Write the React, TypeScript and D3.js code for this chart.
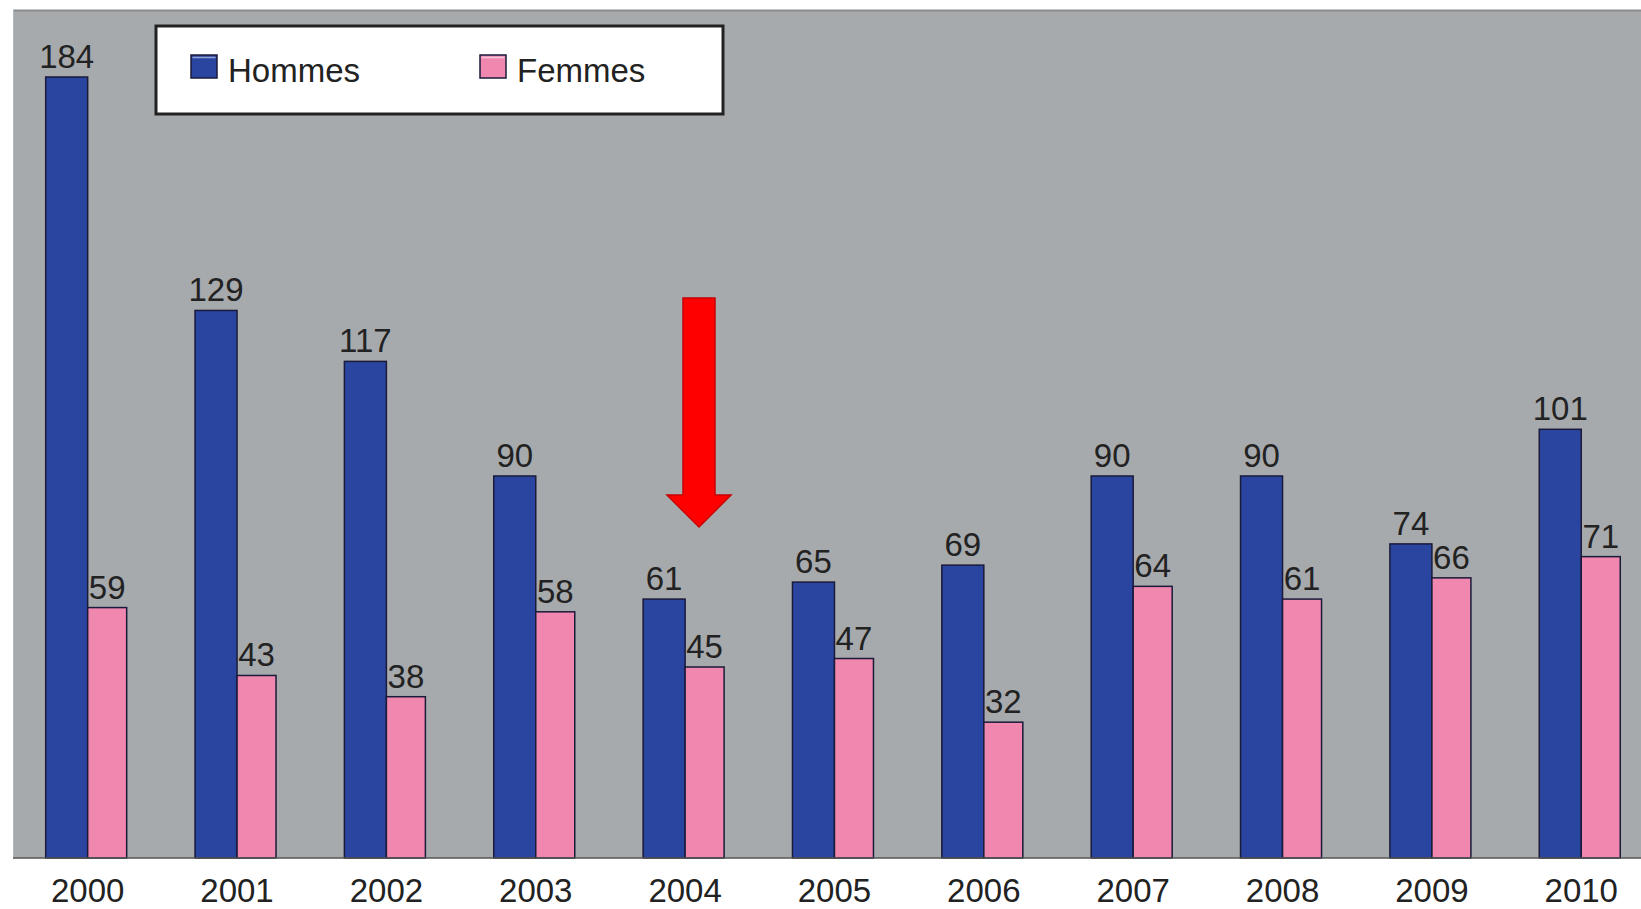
import React from "react";
import * as d3 from "d3";

const years = ["2000","2001","2002","2003","2004","2005","2006","2007","2008","2009","2010"];
const hommes = [184,129,117,90,61,65,69,90,90,74,101];
const femmes = [59,43,38,58,45,47,32,64,61,66,71];
const seriesNames = ["Hommes","Femmes"];
const seriesColors = ["#2a45a0","#ef87ae"];

const W = 1641, H = 909;
const plotLeft = 13, plotTop = 10, baseY = 858;

export default function App() {
  const x = d3.scaleBand<string>().domain(years).range([plotLeft, plotLeft + 11 * (W - plotLeft) / 10.9]).padding(0);
  const step = x.step();
  const y = d3.scaleLinear().domain([0, 184]).range([baseY, 77]);
  const sub = d3.scaleOrdinal<string, [number, number]>().domain(seriesNames).range([[-42, 0], [0, 39]]);
  const font = "'Liberation Sans', Arial, Helvetica, sans-serif";
  const data = [hommes, femmes];

  return (
    <svg width={W} height={H} style={{ position: "absolute", left: 0, top: 0, display: "block" }} fontFamily={font}>
      <rect x={0} y={0} width={W} height={H} fill="#ffffff" />
      <rect x={plotLeft} y={plotTop} width={W - plotLeft} height={baseY - plotTop} fill="#a7aaad" />
      <line x1={plotLeft} x2={W} y1={plotTop + 0.5} y2={plotTop + 0.5} stroke="#8a8d90" strokeWidth={2} />
      <line x1={plotLeft + 0.5} x2={plotLeft + 0.5} y1={plotTop} y2={baseY} stroke="#b4b7ba" strokeWidth={1} />
      {years.map((yr, i) => {
        const c = (x(yr) as number) + step / 2;
        return (
          <g key={yr}>
            {seriesNames.map((s, k) => {
              const [a, b] = sub(s);
              const v = data[k][i];
              return (
                <g key={s}>
                  <rect x={c + a} y={y(v)} width={b - a} height={baseY - y(v)} fill={seriesColors[k]} stroke="#1a1a3a" strokeWidth={1.5} />
                  <text x={c + (a + b) / 2} y={y(v) - 9} textAnchor="middle" fontSize={33} fill="#222">{v}</text>
                </g>
              );
            })}
            <text x={c} y={902} textAnchor="middle" fontSize={33} fill="#222">{yr}</text>
          </g>
        );
      })}
      <line x1={plotLeft} x2={W} y1={baseY} y2={baseY} stroke="#555" strokeWidth={1.5} />
      {/* legend */}
      <rect x={156} y={26} width={567} height={88} fill="#ffffff" stroke="#222" strokeWidth={3} />
      {seriesNames.map((s, k) => {
        const lx = k === 0 ? 191 : 480;
        return (
          <g key={s}>
            <rect x={lx} y={55} width={26} height={23} fill={seriesColors[k]} stroke="#1a1a3a" strokeWidth={1.5} />
            <line x1={lx + 1.5} x2={lx + 24.5} y1={57.5} y2={57.5} stroke="#ffffff" strokeOpacity={0.5} strokeWidth={1.5} />
            <text x={lx + 37} y={82} fontSize={33} fill="#222">{s}</text>
          </g>
        );
      })}
      {/* arrow */}
      <polygon points="683,298 715,298 715,495 731,495 699,527 667,495 683,495" fill="#ff0000" stroke="#c80000" strokeWidth={1.5} />
    </svg>
  );
}
